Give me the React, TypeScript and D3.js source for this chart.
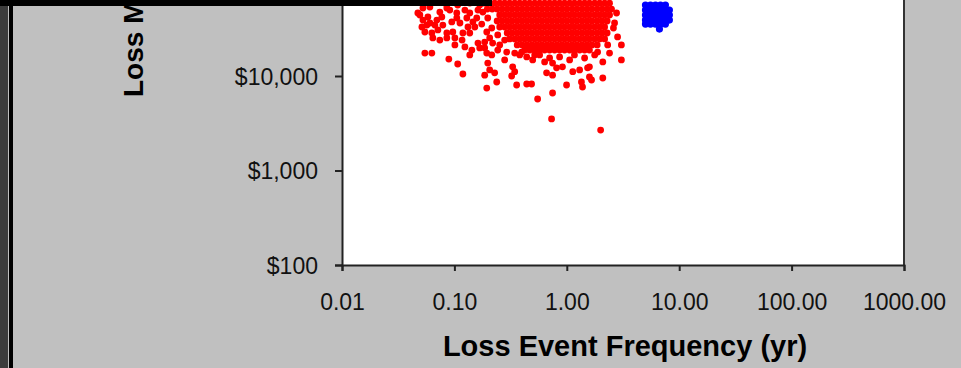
import { useEffect, useRef } from 'react'
import * as d3 from 'd3'

// Loss event frequency (per year) ticks and loss magnitude ticks
const X_TICKS = [0.01, 0.1, 1, 10, 100, 1000]
const Y_TICKS = [100, 1000, 10000]

// Frequencies used by the dense core of the red cloud (two staggered sets)
const CORE_FREQS_A = [
  0.186, 0.206, 0.228, 0.253, 0.28, 0.31, 0.344, 0.381, 0.422, 0.467, 0.518, 0.573, 0.635,
  0.703, 0.779, 0.863, 0.955, 1.06, 1.17, 1.3, 1.44, 1.59, 1.77, 1.96, 2.17, 2.4,
]
const CORE_FREQS_B = [
  0.196, 0.217, 0.24, 0.266, 0.295, 0.326, 0.362, 0.401, 0.444, 0.492, 0.545, 0.603, 0.669,
  0.74, 0.82, 0.909, 1.005, 1.116, 1.232, 1.369, 1.516, 1.674, 1.863, 2.063, 2.285, 2.527,
]
// Each row of the core: loss value, which frequency set, and the span it covers
const CORE_ROWS: { loss: number; set: 'A' | 'B'; from: number; to: number }[] = [
  { loss: 59000, set: 'A', from: 0.186, to: 2.4 },
  { loss: 51100, set: 'B', from: 0.196, to: 2.285 },
  { loss: 44200, set: 'A', from: 0.253, to: 2.4 },
  { loss: 38200, set: 'B', from: 0.24, to: 2.285 },
  { loss: 33000, set: 'A', from: 0.253, to: 2.17 },
  { loss: 28500, set: 'B', from: 0.295, to: 2.285 },
  { loss: 24700, set: 'A', from: 0.31, to: 2.17 },
  { loss: 21300, set: 'B', from: 0.362, to: 1.863 },
  { loss: 18800, set: 'A', from: 0.422, to: 1.59 },
]

// Scattered red points around the core [frequency, loss]
const RED_SCATTER: [number, number][] = [
  [0.0493, 44200], [0.0525, 39100], [0.0514, 33000], [0.0473, 46400], [0.0581, 42100],
  [0.0605, 36400], [0.0546, 29200], [0.063, 28500], [0.0643, 25300], [0.0773, 42100],
  [0.0789, 34600], [0.0713, 30700], [0.0856, 28500], [0.0968, 29200], [0.0856, 25300],
  [0.101, 25300], [0.091, 49900], [0.105, 46400], [0.112, 36400], [0.129, 41100],
  [0.132, 33000], [0.119, 28500], [0.137, 28500], [0.152, 33000], [0.158, 41100],
  [0.162, 49900], [0.0605, 53700], [0.0856, 52400], [0.0698, 39100], [0.137, 46400],
  [0.105, 41100], [0.124, 20300], [0.143, 18800], [0.137, 16700], [0.162, 22300],
  [0.168, 19800], [0.194, 29200], [0.206, 25300], [0.186, 22850], [0.219, 22300],
  [0.243, 27200], [0.0546, 17500], [0.063, 17500], [0.0892, 15100], [0.107, 13400],
  [0.119, 10500], [0.194, 17500], [0.198, 13700], [0.206, 11600], [0.186, 10200],
  [0.228, 10800], [0.238, 8640], [0.194, 7460], [0.243, 18800], [0.28, 14800],
  [0.292, 17900], [0.344, 17500], [0.33, 12500], [0.344, 11100], [0.323, 10000],
  [0.358, 8030], [0.44, 15900], [0.497, 14800], [0.44, 8230], [0.486, 8230],
  [0.55, 5710], [0.635, 14100], [0.661, 10800], [0.747, 13700], [0.747, 10200],
  [0.747, 6610], [0.732, 3510], [0.811, 12200], [0.915, 12500], [0.995, 8030],
  [1.13, 11100], [1.3, 11600], [1.35, 8640], [1.38, 7650], [1.59, 12500],
  [1.59, 9760], [1.66, 9070], [2.09, 14100], [2.09, 9530], [2.0, 2680],
  [2.4, 17500], [3.06, 21300], [3.06, 14800], [2.77, 46400], [2.66, 36400],
  [2.83, 25900], [1.53, 12200], [0.381, 16700], [0.573, 16700], [0.863, 15900],
  [1.17, 16700], [1.77, 16700],
  [0.168, 56400], [0.179, 47500], [0.198, 41100], [0.175, 35400], [0.215, 32200],
  [0.146, 37300], [0.124, 49900], [0.107, 56400], [0.0742, 47500], [0.067, 34600],
  [0.0569, 34600], [0.0948, 37300], [0.117, 24000], [0.186, 19800], [0.215, 16700],
  [0.253, 21300], [0.28, 24000], [0.0742, 24000], [0.101, 21300], [0.0525, 52400],
  [0.137, 59200], [0.0822, 59200],
  [2.5, 51100], [2.6, 32200], [2.31, 21300], [1.88, 17900], [1.44, 15500],
  [1.06, 14800], [0.703, 15500], [0.518, 16700], [0.397, 17900],
]

// Tight blue cluster [frequency, loss]
const BLUE_POINTS: [number, number][] = [
  [5.01, 56400], [5.55, 56400], [6.15, 56400], [6.81, 56400], [7.54, 56400],
  [5.01, 49900], [5.55, 49900], [6.15, 49900], [6.81, 49900], [7.54, 49900], [8.18, 49900],
  [5.01, 44200], [5.55, 44200], [6.15, 44200], [6.81, 44200], [7.54, 44200], [8.18, 44200],
  [5.01, 39100], [5.55, 39100], [6.15, 39100], [6.81, 39100], [7.54, 39100], [8.18, 39100],
  [5.01, 35400], [5.55, 35400], [6.15, 35400], [6.81, 35400], [7.54, 35400],
  [6.67, 31400],
]

const W = 961
const H = 368
const FONT = '"Liberation Sans", Arial, sans-serif'

export default function App() {
  const svgRef = useRef<SVGSVGElement | null>(null)

  useEffect(() => {
    if (!svgRef.current) return
    const svg = d3.select(svgRef.current)
    svg.selectAll('*').remove()

    const x = d3.scaleLog().domain([0.01, 1000]).range([342, 904])
    const y = d3.scaleLog().domain([100, 100000]).range([265, -18.5])

    // Chart background and frame pieces
    svg.append('rect').attr('width', W).attr('height', H).attr('fill', '#c0c0c0')
    svg.append('rect').attr('x', 0).attr('width', 8).attr('height', H).attr('fill', '#3c3c3c')
    svg.append('rect').attr('x', 9).attr('width', 4).attr('height', H).attr('fill', '#000')

    // Plot area
    svg.append('rect')
      .attr('x', x(0.01)).attr('y', -20)
      .attr('width', x(1000) - x(0.01)).attr('height', 265 + 20)
      .attr('fill', '#fff')

    const core: [number, number][] = []
    CORE_ROWS.forEach(r => {
      const freqs = r.set === 'A' ? CORE_FREQS_A : CORE_FREQS_B
      freqs.filter(f => f >= r.from && f <= r.to).forEach(f => core.push([f, r.loss]))
    })
    const red = [...RED_SCATTER, ...core]

    svg.append('g').selectAll('circle').data(red).join('circle')
      .attr('cx', d => x(d[0])).attr('cy', d => y(d[1])).attr('r', 3.4)
      .attr('fill', '#ff0000')
    svg.append('g').selectAll('circle').data(BLUE_POINTS).join('circle')
      .attr('cx', d => x(d[0])).attr('cy', d => y(d[1])).attr('r', 3.6)
      .attr('fill', '#0000ff')

    // Right border of plot area
    svg.append('line')
      .attr('x1', 904).attr('x2', 904).attr('y1', -20).attr('y2', 265)
      .attr('stroke', '#333').attr('stroke-width', 2)

    const xAxis = svg.append('g').attr('transform', 'translate(0,265)')
      .call(d3.axisBottom(x).tickValues(X_TICKS).tickFormat(d => d3.format('.2f')(d as number)).tickSizeOuter(0).tickSize(6))
    const yAxis = svg.append('g').attr('transform', 'translate(342,0)')
      .call(d3.axisLeft(y).tickValues(Y_TICKS).tickFormat(d => '$' + d3.format(',')(d as number)).tickSizeOuter(0).tickSize(7))
    ;[xAxis, yAxis].forEach(a => {
      a.select('.domain').attr('stroke', '#222').attr('stroke-width', 2)
      a.selectAll('.tick line').attr('stroke', '#222').attr('stroke-width', 2)
      a.selectAll('.tick text')
        .attr('fill', '#111').style('font-family', FONT).style('font-size', '23px')
    })
    xAxis.selectAll('.tick text').attr('y', 0).attr('dy', '1.95em')
    yAxis.selectAll('.tick text').attr('x', -24).attr('dy', '0.36em')

    // Axis titles
    svg.append('text')
      .attr('x', 625).attr('y', 356)
      .attr('text-anchor', 'middle')
      .style('font-family', FONT).style('font-size', '29px').style('font-weight', 'bold')
      .attr('fill', '#000')
      .text('Loss Event Frequency (yr)')
    svg.append('text')
      .attr('transform', 'translate(143,97) rotate(-90)')
      .attr('text-anchor', 'start')
      .style('font-family', FONT).style('font-size', '28px').style('font-weight', 'bold')
      .attr('fill', '#000')
      .text('Loss Magnitude ($)')

    // Dark band cropping the top
    svg.append('rect').attr('x', 0).attr('y', 0).attr('width', 492).attr('height', 6).attr('fill', '#000')
  }, [])

  return (
    <div style={{ position: 'absolute', left: 0, top: 0 }}>
      <svg ref={svgRef} width={W} height={H} style={{ display: 'block' }} />
    </div>
  )
}
